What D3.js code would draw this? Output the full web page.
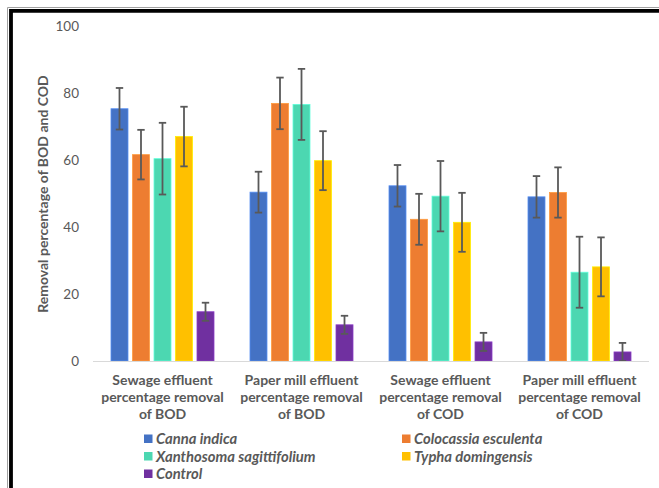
<!DOCTYPE html>
<html>
<head>
<meta charset="utf-8">
<script src="https://cdn.jsdelivr.net/npm/d3@7"></script>
<style>
  html, body { margin: 0; padding: 0; background: #ffffff; }
  svg { display: block; }
  text { font-family: Lato, "Open Sans", sans-serif; fill: #595959; }
</style>
</head>
<body>
<svg id="chart" width="659" height="488"></svg>
<script>
// Treatment categories (x axis groups)
const categories = [
  ["Sewage effluent", "percentage removal", "of BOD"],
  ["Paper mill effluent", "percentage removal", "of BOD"],
  ["Sewage effluent", "percentage removal", "of COD"],
  ["Paper mill effluent", "percentage removal", "of COD"]
];
const categoryKeys = ["sew-bod", "pap-bod", "sew-cod", "pap-cod"];

// Plant species / control series
const seriesNames = ["Canna indica", "Colocassia esculenta", "Xanthosoma sagittifolium", "Typha domingensis", "Control"];
const seriesColors = ["#4472C4", "#ED7D31", "#4CD7B1", "#FFC000", "#7030A0"];

// Mean removal (%) per series, one value per category
const cannaIndica    = [75.3, 50.4, 52.3, 49.0];
const colocassia     = [61.6, 76.9, 42.3, 50.3];
const xanthosoma     = [60.4, 76.6, 49.2, 26.5];
const typha          = [67.0, 59.8, 41.4, 28.1];
const control        = [14.7, 10.8, 5.7, 2.7];

// Standard deviations (error bars)
const cannaErr      = [6.2, 6.1, 6.2, 6.2];
const colocassiaErr = [7.4, 7.7, 7.6, 7.5];
const xanthosomaErr = [10.7, 10.6, 10.5, 10.6];
const typhaErr      = [8.9, 8.8, 8.8, 8.8];
const controlErr    = [2.7, 2.7, 2.7, 2.7];

const yTicks = [0, 20, 40, 60, 80, 100];
const yTitle = "Removal percentage of BOD and COD";

const values = [cannaIndica, colocassia, xanthosoma, typha, control];
const errors = [cannaErr, colocassiaErr, xanthosomaErr, typhaErr, controlErr];
</script>
<script>
const svg = d3.select("#chart");

// frame around the chart (left and top edges)
svg.append("line").attr("x1", 7.5).attr("y1", 7.5).attr("x2", 659).attr("y2", 7.5)
  .attr("stroke", "#a0a0a0").attr("stroke-width", 1);
svg.append("line").attr("x1", 7.5).attr("y1", 7.5).attr("x2", 7.5).attr("y2", 488)
  .attr("stroke", "#a0a0a0").attr("stroke-width", 1);
svg.append("path").attr("d", "M11,488 V10.8 H659")
  .attr("fill", "none").attr("stroke", "#000").attr("stroke-width", 3.8);

const plotLeft = 93, plotRight = 649;
const y = d3.scaleLinear().domain([0, 100]).range([361, 26]);
const x0 = d3.scaleBand().domain(categoryKeys).range([plotLeft, plotRight]).padding(0);
const x1 = d3.scaleBand().domain(d3.range(seriesNames.length))
  .range([18, x0.bandwidth() - 18]).paddingInner(0.21).paddingOuter(0);

// y tick labels
const yAxis = d3.axisLeft(y).tickValues(yTicks).tickSize(0).tickPadding(0);
const yg = svg.append("g").attr("transform", "translate(79,0)").call(yAxis);
yg.select(".domain").remove();
yg.selectAll("text").attr("font-size", 13.5).attr("fill", "#595959")
  .style("font-family", "Lato, 'Open Sans', sans-serif").attr("dy", "0.35em");

// y axis title
svg.append("text")
  .attr("transform", "translate(48,194) rotate(-90)")
  .attr("text-anchor", "middle")
  .attr("font-size", 14).attr("font-weight", "bold")
  .text(yTitle);

// bars
const groups = svg.append("g").selectAll("g").data(categoryKeys).join("g")
  .attr("transform", d => `translate(${x0(d)},0)`);

groups.each(function(cat, ci) {
  const g = d3.select(this);
  seriesNames.forEach((s, si) => {
    const v = values[si][ci];
    g.append("rect")
      .attr("x", x1(si)).attr("width", x1.bandwidth())
      .attr("y", y(v)).attr("height", y(0) - y(v))
      .attr("fill", seriesColors[si])
      .attr("stroke", d3.color(seriesColors[si]).brighter(0.6))
      .attr("stroke-width", 0.8);
  });
});

// baseline
svg.append("line").attr("x1", plotLeft).attr("x2", plotRight)
  .attr("y1", y(0) + 0.5).attr("y2", y(0) + 0.5)
  .attr("stroke", "#d9d9d9").attr("stroke-width", 1.2);

// error bars
groups.each(function(cat, ci) {
  const g = d3.select(this);
  seriesNames.forEach((s, si) => {
    const v = values[si][ci], e = errors[si][ci];
    const cx = x1(si) + x1.bandwidth() / 2;
    const lo = Math.max(0, v - e), hi = v + e;
    const eg = g.append("g").attr("stroke", "#595959").attr("stroke-width", 1.8);
    eg.append("line").attr("x1", cx).attr("x2", cx).attr("y1", y(hi)).attr("y2", y(lo));
    eg.append("line").attr("x1", cx - 3.7).attr("x2", cx + 3.7).attr("y1", y(hi)).attr("y2", y(hi));
    eg.append("line").attr("x1", cx - 3.7).attr("x2", cx + 3.7).attr("y1", y(lo)).attr("y2", y(lo));
  });
});

// category labels
const catLabels = svg.append("g").selectAll("text").data(categories).join("text")
  .attr("text-anchor", "middle")
  .attr("font-size", 14).attr("font-weight", "bold")
  .attr("transform", (d, i) => `translate(${x0(categoryKeys[i]) + x0.bandwidth() / 2},385)`);
catLabels.selectAll("tspan").data(d => d).join("tspan")
  .attr("x", 0).attr("y", (d, i) => i * 17)
  .text(d => d);

// legend
const legendPos = [[144, 439], [402, 439], [144, 456.5], [402, 456.5], [144, 474]];
const lg = svg.append("g").selectAll("g").data(seriesNames).join("g")
  .attr("transform", (d, i) => `translate(${legendPos[i][0]},${legendPos[i][1]})`);
lg.append("rect").attr("x", 0).attr("y", -4.5).attr("width", 8.5).attr("height", 8.5)
  .attr("fill", (d, i) => seriesColors[i]);
lg.append("text").attr("x", 12).attr("y", 0).attr("dy", "0.35em")
  .attr("font-size", 14.8).attr("font-weight", "bold").attr("font-style", "italic")
  .text(d => d);
</script>
</body>
</html>
